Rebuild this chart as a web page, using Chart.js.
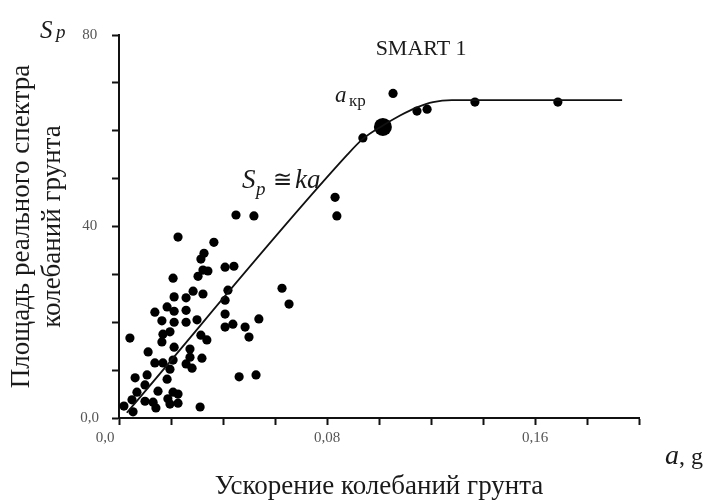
<!DOCTYPE html>
<html>
<head>
<meta charset="utf-8">
<script src="https://cdn.jsdelivr.net/npm/chart.js@4.4.1/dist/chart.umd.min.js"></script>
<style>
  body { margin: 0; background: #fff; }
  #chart { display: block; }
</style>
</head>
<body>
<canvas id="chart" width="706" height="500"></canvas>
<script>
    // SMART 1 records: ground acceleration a (g) and area of the real spectrum Sp
    const accel = [
      0.0450, 0.0519, 0.0227, 0.0365, 0.0327, 0.0315, 0.0323, 0.0342, 0.0304, 0.0408,
      0.0442, 0.0208, 0.0285, 0.0323, 0.0419, 0.0212, 0.0258, 0.0408, 0.0627, 0.0654,
      0.0138, 0.0185, 0.0212, 0.0258, 0.0165, 0.0212, 0.0258, 0.0300, 0.0408, 0.0408,
      0.0438, 0.0485, 0.0538, 0.0500, 0.0042, 0.0169, 0.0196, 0.0165, 0.0315, 0.0338,
      0.0212, 0.0112, 0.0273, 0.0273, 0.0319, 0.0138, 0.0169, 0.0208, 0.0196, 0.0258,
      0.0281, 0.0062, 0.0108, 0.0185, 0.0462, 0.0527, 0.0100, 0.0150, 0.0069, 0.0050,
      0.0208, 0.0227, 0.0188, 0.0227, 0.0100, 0.0131, 0.0142, 0.0019, 0.0054, 0.0312,
      0.0196, 0.0831, 0.0838, 0.0938, 0.1054, 0.1146, 0.1185, 0.1369, 0.1688
    ];
    const area = [
      42.4, 42.2, 37.8, 36.7, 34.4, 33.2, 30.9, 30.7, 29.6, 31.5,
      31.7, 29.2, 26.5, 25.9, 26.7, 25.3, 25.1, 24.6, 27.1, 23.8,
      22.1, 23.2, 22.3, 22.5, 20.3, 20.0, 20.0, 20.5, 21.7, 19.0,
      19.6, 19.0, 20.7, 16.9, 16.7, 17.5, 18.0, 15.9, 17.3, 16.3,
      14.8, 13.8, 14.4, 12.7, 12.5, 11.5, 11.5, 12.1, 10.2, 11.3,
      10.4, 8.4, 9.0, 8.1, 8.6, 9.0, 6.9, 5.6, 5.4, 3.8,
      5.4, 5.0, 4.0, 3.1, 3.5, 3.3, 2.1, 2.5, 1.3, 2.3,
      2.9, 46.1, 42.2, 58.5, 67.8, 64.1, 64.5, 66.0, 66.0
    ];

    // Sp ≅ ka up to the critical acceleration, then the plateau
    const fitA = [0.003, 0.088, 0.0938, 0.1015, 0.1081, 0.1146, 0.1208, 0.128, 0.1935];
    const fitS = [1.1, 55.1, 58.3, 61.1, 63.2, 64.9, 66.0, 66.4, 66.4];

    // critical point a_кр
    const critA = [0.1015];
    const critS = [60.8];

    const xLabelVals = [0.08, 0.16];
    const xLabelText = ['0,08', '0,16'];
    const yLabelVals = [0, 40, 80];
    const yLabelText = ['0,0', '40', '80'];

    const SERIF = '"Liberation Serif", "Times New Roman", serif';
    const toXY = (xs, ys) => xs.map((v, i) => ({ x: v, y: ys[i] }));
    const pick = (vals, texts, v) => {
      const i = vals.findIndex(t => Math.abs(t - v) < 1e-6);
      return i < 0 ? '' : texts[i];
    };

    // loose text: axis symbols, the fit formula, a_кр, record name
    const notes = {
      id: 'notes',
      afterDraw(chart) {
        const { ctx, chartArea: ca, scales: { x, y } } = chart;
        ctx.save();
        ctx.textBaseline = 'alphabetic';
        ctx.textAlign = 'left';

        // x origin label sits left of the corner
        ctx.fillStyle = '#555';
        ctx.font = '15px ' + SERIF;
        ctx.textAlign = 'center';
        ctx.fillText('0,0', x.getPixelForValue(0) - 14, ca.bottom + 24);
        ctx.textAlign = 'left';

        ctx.fillStyle = '#1a1a1a';
        // Sp over the y axis
        ctx.font = 'italic 25px ' + SERIF;
        ctx.fillText('S', ca.left - 79, ca.top + 3);
        ctx.font = 'italic 19px ' + SERIF;
        ctx.fillText('p', ca.left - 63, ca.top + 3);

        // a, g after the x axis
        ctx.font = 'italic 28px ' + SERIF;
        ctx.fillText('a', ca.right + 26, ca.bottom + 46);
        ctx.font = '24px ' + SERIF;
        ctx.fillText(', g', ca.right + 40, ca.bottom + 46);

        // Sp ≅ ka
        let px = x.getPixelForValue(0.0473), py = y.getPixelForValue(48.0);
        ctx.font = 'italic 27px ' + SERIF;
        ctx.fillText('S', px, py);
        ctx.font = 'italic 19px ' + SERIF;
        ctx.fillText('p', px + 14, py + 7);
        ctx.font = '23px ' + SERIF;
        ctx.fillText('≅', px + 31, py - 1);
        ctx.font = 'italic 27px ' + SERIF;
        ctx.fillText('ka', px + 53, py);

        // a_кр
        px = x.getPixelForValue(0.0831); py = y.getPixelForValue(66.0);
        ctx.font = 'italic 23px ' + SERIF;
        ctx.fillText('a', px, py);
        ctx.font = '17px ' + SERIF;
        ctx.fillText('кр', px + 14, py + 4);

        // record name
        ctx.font = '22px ' + SERIF;
        ctx.textAlign = 'center';
        ctx.fillText('SMART 1', x.getPixelForValue(0.1162), y.getPixelForValue(75.8));
        ctx.restore();
      }
    };

    const ctx = document.getElementById('chart').getContext('2d');
    const chart = new Chart(ctx, {
      type: 'scatter',
      data: {
        datasets: [
          {
            data: toXY(fitA, fitS),
            showLine: true,
            cubicInterpolationMode: 'monotone',
            borderColor: '#111',
            borderWidth: 1.8,
            pointRadius: 0
          },
          {
            data: toXY(accel, area),
            backgroundColor: '#000',
            borderWidth: 0,
            pointRadius: 4.6
          },
          {
            data: toXY(critA, critS),
            backgroundColor: '#000',
            borderWidth: 0,
            pointRadius: 9
          }
        ]
      },
      options: {
        responsive: false,
        animation: false,
        layout: { padding: { left: 0, right: 67, top: 35, bottom: 0 } },
        plugins: {
          legend: { display: false },
          tooltip: { enabled: false }
        },
        scales: {
          x: {
            type: 'linear',
            min: 0,
            max: 0.2,
            afterFit(scale) { scale.height = 82; },
            border: { display: true, color: '#111', width: 2 },
            grid: {
              drawOnChartArea: false,
              drawTicks: true,
              tickLength: 7,
              tickWidth: 2,
              tickColor: '#111'
            },
            ticks: {
              stepSize: 0.02,
              autoSkip: false,
              maxRotation: 0,
              padding: 4,
              color: '#555',
              font: { family: SERIF, size: 15 },
              callback: v => pick(xLabelVals, xLabelText, v)
            },
            title: {
              display: true,
              text: 'Ускорение колебаний грунта',
              color: '#1a1a1a',
              font: { family: SERIF, size: 27, lineHeight: 1.0 },
              padding: { top: 0, bottom: 0 }
            }
          },
          y: {
            min: 0,
            max: 80,
            afterFit(scale) { scale.width = 119; },
            border: { display: true, color: '#111', width: 2 },
            grid: {
              drawOnChartArea: false,
              drawTicks: true,
              tickLength: 7,
              tickWidth: 2,
              tickColor: '#111'
            },
            ticks: {
              stepSize: 10,
              autoSkip: false,
              crossAlign: 'center',
              padding: 13,
              color: '#555',
              font: { family: SERIF, size: 15 },
              callback: v => pick(yLabelVals, yLabelText, v)
            },
            title: {
              display: true,
              text: ['Площадь реального спектра', 'колебаний грунта'],
              color: '#1a1a1a',
              font: { family: SERIF, size: 27, lineHeight: 1.15 },
              padding: { top: 6, bottom: 0 }
            }
          }
        }
      },
      plugins: [notes]
    });
</script>
</body>
</html>
